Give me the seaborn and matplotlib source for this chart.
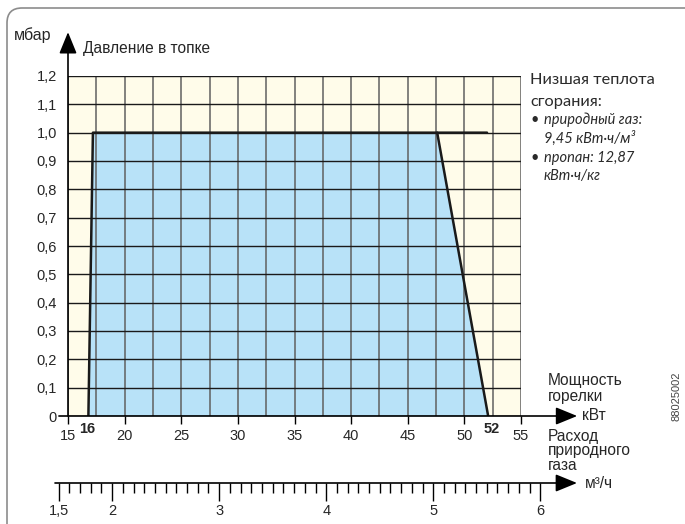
import numpy as np
import matplotlib.pyplot as plt
import seaborn as sns
from matplotlib.patches import FancyBboxPatch

# burner working field: pressure in combustion chamber vs burner power
power_kw = [16.8, 17.2, 47.6, 52.1]
pressure_mbar = [0.0, 1.0, 1.0, 0.0]
top_end_kw = 52.0

kw_ticks = [15, 20, 25, 30, 35, 40, 45, 50, 55]
kw_marks = ["16", "52"]
mbar_ticks = [0, 0.1, 0.2, 0.3, 0.4, 0.5, 0.6, 0.7, 0.8, 0.9, 1.0, 1.1, 1.2]
mbar_labels = ["0", "0,1", "0,2", "0,3", "0,4", "0,5", "0,6", "0,7", "0,8", "0,9", "1,0", "1,1", "1,2"]
gas_ticks = [1.5, 2, 3, 4, 5, 6]
gas_labels = ["1,5", "2", "3", "4", "5", "6"]
kwh_per_m3 = 9.45

W, H = 685, 524
sns.set_style("white")
plt.rcParams['font.family'] = ['Liberation Sans', 'DejaVu Sans']

def fx(px):
    return px / W

def fy(py):
    return 1 - py / H

fig = plt.figure(figsize=(W / 100, H / 100), dpi=100)
ax = fig.add_axes([fx(68), fy(416), (521 - 68) / W, (416 - 76) / H])
ax.set_facecolor('#fffcea')

ax.fill_between(power_kw, pressure_mbar, color='#b8e2f8', lw=0, zorder=1)
sns.lineplot(x=power_kw[:2] + [top_end_kw], y=pressure_mbar[:2] + [1.0], sort=False,
             color='#1a1a1a', lw=1.8, zorder=3, ax=ax)
sns.lineplot(x=power_kw[2:], y=pressure_mbar[2:], sort=False,
             color='#1a1a1a', lw=1.8, zorder=3, ax=ax)

ax.set_xlim(15, 55)
ax.set_ylim(0, 1.2)
ax.set_xticks(kw_ticks)
ax.set_xticks(np.arange(15, 55.1, 2.5), minor=True)
ax.set_yticks(mbar_ticks, labels=mbar_labels)
ax.set_axisbelow(False)
ax.xaxis.grid(True, which='both', color='#606060', lw=1.1)
ax.yaxis.grid(True, which='major', color='#1a1a1a', lw=1.0)
for s in ax.spines.values():
    s.set_visible(False)
ax.tick_params(axis='x', which='major', bottom=True, length=6, width=1, direction='out',
               pad=3.5, labelsize=10.5, color='black')
ax.tick_params(axis='x', which='minor', bottom=False, length=0)
ax.tick_params(axis='y', left=False, length=0, pad=8, labelsize=10.5)
ax.set_xlabel('')
ax.set_ylabel('')

arrow = dict(arrowstyle='-|>,head_length=1.1,head_width=0.45', color='black', lw=1.2,
             mutation_scale=12, shrinkA=0, shrinkB=0)
ax.annotate('', xy=(1.124, 0), xytext=(-0.02, 0), xycoords='axes fraction',
            arrowprops=arrow, annotation_clip=False)
ax.annotate('', xy=(0, 1.129), xytext=(0, 0), xycoords='axes fraction',
            arrowprops=arrow, annotation_clip=False)

# bold marks for min/max burner power
for lab, kw, dx in zip(kw_marks, [16, 52], [5.5, 3.6]):
    ax.annotate(lab, xy=(kw, 0), xycoords=('data', 'axes fraction'),
                xytext=(dx, -9.4), textcoords='offset points',
                ha='center', va='center', fontsize=10.5, fontweight='bold')

# gas flow scale
def px_to_kw(p):
    return 15 + (p - 68) * 40 / 453

gax = fig.add_axes([fx(55), fy(483), (577 - 55) / W, 0.001])
gax.set_facecolor('none')
gax.set_xlim(px_to_kw(55) / kwh_per_m3, px_to_kw(577) / kwh_per_m3)
gax.set_yticks([])
for s in gax.spines.values():
    s.set_visible(False)
gax.set_xticks(gas_ticks, labels=gas_labels)
gax.set_xticks([m / 10 for m in range(16, 60) if m % 10 != 0], minor=True)
gax.tick_params(axis='x', which='major', bottom=True, length=13, width=1, pad=2,
                labelsize=10.5, color='black')
gax.tick_params(axis='x', which='minor', bottom=True, length=7, width=1, color='black')
gax.annotate('', xy=(1, 0), xytext=(0, 0), xycoords='axes fraction',
             arrowprops=arrow, annotation_clip=False)

# labels
def txt(px, py, s, **kw):
    fig.text(fx(px), fy(py), s, va='center', **kw)

txt(14, 35, 'мбар', fontsize=11.5)
txt(83, 48, 'Давление в топке', fontsize=11.2)
txt(548, 380, 'Мощность', fontsize=11.2)
txt(548, 396, 'горелки', fontsize=11.2)
txt(582, 416, 'кВт', fontsize=11.2)
txt(548, 436, 'Расход', fontsize=11.2)
txt(548, 451, 'природного', fontsize=11.2)
txt(548, 466, 'газа', fontsize=11.2)
txt(585, 484, 'м³/ч', fontsize=11.2)

note = ['Lato', 'DejaVu Sans']
ink = '#2a2a2a'
txt(530, 80, 'Низшая теплота', fontsize=11.8, family=note, color=ink)
txt(530, 102, 'сгорания:', fontsize=11.8, family=note, color=ink)
txt(530, 120, '•', fontsize=10.5, family=note, color=ink)
txt(544, 120, 'природный газ:', fontsize=10.5, family=note, style='italic', color=ink)
txt(544, 138, '9,45 кВт·ч/м³', fontsize=10.5, family=note, style='italic', color=ink)
txt(530, 158, '•', fontsize=10.5, family=note, color=ink)
txt(544, 158, 'пропан: 12,87', fontsize=10.5, family=note, style='italic', color=ink)
txt(544, 176, 'кВт·ч/кг', fontsize=10.5, family=note, style='italic', color=ink)

fig.text(fx(677), fy(396), '88025002', rotation=90, ha='center', va='center',
         fontsize=8, color='#444444')

frame = FancyBboxPatch((7, -30), 720, H - 8 + 30, boxstyle='round,pad=0,rounding_size=15',
                       transform=None, fill=False, ec='#8c8c8c', lw=1.2)
fig.add_artist(frame)

fig.savefig('out.png', dpi=100)
